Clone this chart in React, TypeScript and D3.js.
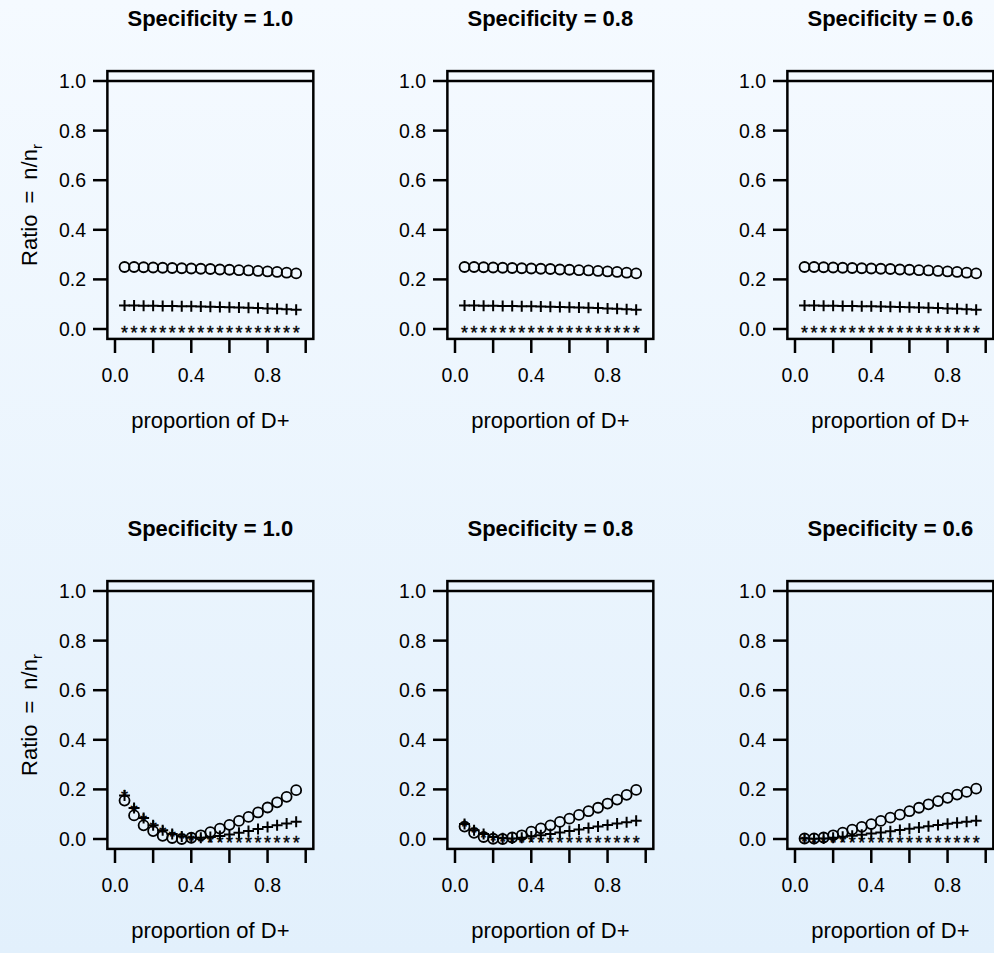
import React from 'react';
import * as d3 from 'd3';

// x positions shared by every panel
const proportions = [0.05, 0.1, 0.15, 0.2, 0.25, 0.3, 0.35, 0.4, 0.45, 0.5, 0.55, 0.6, 0.65, 0.7, 0.75, 0.8, 0.85, 0.9, 0.95];
const specLabels = ['1.0', '0.8', '0.6'];
const yTicks = [0, 0.2, 0.4, 0.6, 0.8, 1.0];
const yTickLabels = ['0.0', '0.2', '0.4', '0.6', '0.8', '1.0'];
const xTicks = [0, 0.2, 0.4, 0.6, 0.8, 1.0];
const xTickLabels = ['0.0', '', '0.4', '', '0.8', ''];

// top row (same for all three specificities)
const topCircle = [0.25, 0.25, 0.249, 0.248, 0.247, 0.246, 0.245, 0.244, 0.243, 0.242, 0.24, 0.239, 0.237, 0.236, 0.234, 0.232, 0.23, 0.227, 0.224];
const topPlus = [0.095, 0.095, 0.094, 0.094, 0.093, 0.093, 0.092, 0.092, 0.091, 0.09, 0.089, 0.088, 0.087, 0.086, 0.085, 0.083, 0.082, 0.08, 0.078];
const topStar = [0, 0, 0, 0, 0, 0, 0, 0, 0, 0, 0, 0, 0, 0, 0, 0, 0, 0, 0];

// bottom row, specificity 1.0
const botCircle10 = [0.155, 0.095, 0.055, 0.032, 0.013, 0.004, 0.0, 0.005, 0.015, 0.028, 0.042, 0.057, 0.073, 0.089, 0.107, 0.127, 0.148, 0.17, 0.197];
const botPlus10 = [0.175, 0.125, 0.085, 0.055, 0.035, 0.02, 0.01, 0.005, 0.005, 0.008, 0.012, 0.018, 0.025, 0.032, 0.04, 0.048, 0.055, 0.063, 0.07];
const botStar10 = [0.185, 0.13, 0.09, 0.06, 0.04, 0.025, 0.015, 0.01, 0.005, 0.002, 0, 0, 0, 0, 0, 0, 0, 0, 0];

// bottom row, specificity 0.8
const botCircle08 = [0.05, 0.025, 0.008, 0.001, 0.0, 0.006, 0.015, 0.03, 0.043, 0.055, 0.069, 0.082, 0.097, 0.112, 0.126, 0.143, 0.159, 0.178, 0.198];
const botPlus08 = [0.06, 0.035, 0.02, 0.008, 0.003, 0.002, 0.005, 0.01, 0.015, 0.02, 0.026, 0.032, 0.038, 0.044, 0.05, 0.056, 0.062, 0.068, 0.074];
const botStar08 = [0.065, 0.04, 0.022, 0.01, 0.004, 0.001, 0, 0, 0, 0, 0, 0, 0, 0, 0, 0, 0, 0, 0];

// bottom row, specificity 0.6
const botCircle06 = [0.002, 0.002, 0.006, 0.015, 0.026, 0.038, 0.049, 0.06, 0.073, 0.086, 0.098, 0.112, 0.126, 0.14, 0.153, 0.166, 0.179, 0.19, 0.203];
const botPlus06 = [0.002, 0.001, 0.002, 0.005, 0.009, 0.013, 0.017, 0.022, 0.026, 0.031, 0.036, 0.041, 0.046, 0.051, 0.056, 0.061, 0.066, 0.07, 0.074];
const botStar06 = [0.004, 0.002, 0.001, 0, 0, 0, 0, 0, 0, 0, 0, 0, 0, 0, 0, 0, 0, 0, 0];

const FONT = '"Liberation Sans", Arial, Helvetica, sans-serif';

const x = d3.scaleLinear().domain([0, 1]).range([115, 305.7]);
const y = d3.scaleLinear().domain([0, 1]).range([329, 81]);

type PanelProps = {
  ox: number; oy: number; title: string; showYLab: boolean;
  circle: number[]; plus: number[]; star: number[];
};

const Panel = ({ ox, oy, title, showYLab, circle, plus, star }: PanelProps) => {
  const bx0 = x(-0.04), bx1 = x(1.04), by0 = y(1.04), by1 = y(-0.04);
  return (
    <g transform={`translate(${ox},${oy})`}>
      <text x={(bx0 + bx1) / 2} y={26} textAnchor="middle" fontWeight="bold" fontSize={22} fontFamily={FONT}>{title}</text>
      {/* box */}
      <rect x={bx0} y={by0} width={bx1 - bx0} height={by1 - by0} fill="none" stroke="#000" strokeWidth={2.5} />
      {/* reference line at 1 */}
      <line x1={bx0} x2={bx1} y1={y(1)} y2={y(1)} stroke="#000" strokeWidth={2.5} />
      {/* y axis */}
      {yTicks.map((t, i) => (
        <g key={'y' + i}>
          <line x1={93} x2={bx0} y1={y(t)} y2={y(t)} stroke="#000" strokeWidth={2.5} />
          <text x={86} y={y(t) + 7} textAnchor="end" fontSize={19.5} fontFamily={FONT}>{yTickLabels[i]}</text>
        </g>
      ))}
      {/* x axis */}
      {xTicks.map((t, i) => (
        <g key={'x' + i}>
          <line x1={x(t)} x2={x(t)} y1={340} y2={353} stroke="#000" strokeWidth={2.5} />
          {xTickLabels[i] && (
            <text x={x(t)} y={382} textAnchor="middle" fontSize={19.5} fontFamily={FONT}>{xTickLabels[i]}</text>
          )}
        </g>
      ))}
      <text x={(bx0 + bx1) / 2} y={428} textAnchor="middle" fontSize={22} fontFamily={FONT}>proportion of D+</text>
      {showYLab && (
        <text transform={`translate(37,${(by0 + by1) / 2}) rotate(-90)`} textAnchor="middle" fontSize={22} fontFamily={FONT}>
          {'Ratio\u2002=\u2002n/n'}<tspan fontSize={15} dy={5}>r</tspan>
        </text>
      )}
      {/* series */}
      {proportions.map((p, i) => (
        <circle key={'c' + i} cx={x(p)} cy={y(circle[i])} r={5} fill="none" stroke="#000" strokeWidth={1.8} />
      ))}
      {proportions.map((p, i) => (
        <path key={'p' + i} d={`M${x(p) - 5.5},${y(plus[i])}h11M${x(p)},${y(plus[i]) - 5.5}v11`} stroke="#000" strokeWidth={2} />
      ))}
      {proportions.map((p, i) => (
        <text key={'s' + i} x={x(p)} y={y(star[i]) + 10} textAnchor="middle" fontSize={18} fontFamily={FONT} stroke="#000" strokeWidth={0.4}>*</text>
      ))}
    </g>
  );
};

const rows = [
  [topCircle, topPlus, topStar, topCircle, topPlus, topStar, topCircle, topPlus, topStar],
  [botCircle10, botPlus10, botStar10, botCircle08, botPlus08, botStar08, botCircle06, botPlus06, botStar06],
];

export default function App() {
  return (
    <svg width={994} height={953} style={{ position: 'absolute', left: 0, top: 0 }}>
      <defs>
        <linearGradient id="bg" x1="0" y1="0" x2="0" y2="1">
          <stop offset="0%" stopColor="#F5FAFF" />
          <stop offset="100%" stopColor="#E2F0FC" />
        </linearGradient>
      </defs>
      <rect width={994} height={953} fill="url(#bg)" />
      {rows.map((r, ri) =>
        specLabels.map((s, ci) => (
          <Panel
            key={ri + '-' + ci}
            ox={ci * 340}
            oy={ri * 510}
            title={`Specificity = ${s}`}
            showYLab={ci === 0}
            circle={r[ci * 3]}
            plus={r[ci * 3 + 1]}
            star={r[ci * 3 + 2]}
          />
        ))
      )}
    </svg>
  );
}
